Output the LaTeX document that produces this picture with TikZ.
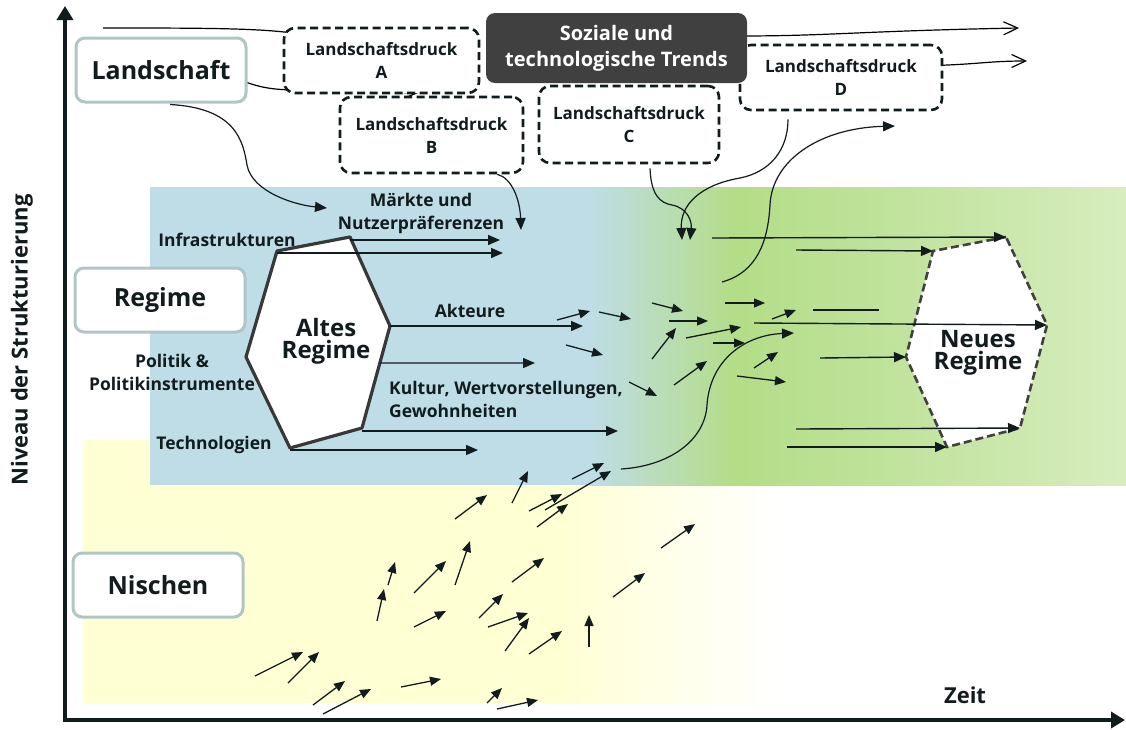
\documentclass[tikz,border=0pt]{standalone}
\usepackage{fontspec}
\setmainfont{Open Sans}
\usepackage{xcolor}
\usepackage{tikz}
\usetikzlibrary{positioning, arrows.meta, calc}
\definecolor{bandblue}{HTML}{BEDDE6}
\definecolor{bandgreen}{HTML}{B4DD87}
\definecolor{bandmid}{HTML}{BFE29A}
\definecolor{bandpale}{HTML}{D7EDBE}
\definecolor{nicheyellow}{HTML}{FFFFD4}
\definecolor{levelgray}{HTML}{B2C5C5}
\definecolor{trendgray}{HTML}{404040}
\definecolor{inkdark}{HTML}{121B1D}
\pgfdeclarelayer{bg}
\pgfdeclarelayer{links}
\pgfsetlayers{bg,links,main}

\begin{document}
\begin{tikzpicture}[x=1pt, y=-1pt, inkdark,
    levelbox/.style={draw=levelgray, line width=3pt, fill=white, rounded corners=9pt,
      minimum width=170pt, minimum height=64pt, font=\fontsize{25}{28}\selectfont\bfseries},
    pressbox/.style={draw=inkdark, line width=2.6pt, dash pattern=on 8pt off 4.5pt, fill=white,
      rounded corners=11pt, align=center, font=\fontsize{17}{23}\selectfont\bfseries},
    regimelabel/.style={font=\fontsize{17.5}{23}\selectfont\bfseries, inner sep=0pt},
    hextext/.style={align=center, font=\fontsize{24}{22}\selectfont\bfseries},
    axistext/.style={font=\fontsize{22}{24}\selectfont\bfseries},
    flow/.style={line width=1.4pt, -{Triangle[length=12pt,width=10pt]}},
    drift/.style={line width=1.3pt, -{Triangle[length=11pt,width=9pt]}},
    pull/.style={line width=1.2pt, -{Triangle[length=12pt,width=10pt]}},
    trendline/.style={line width=1.2pt, -{Straight Barb[length=14pt,width=13pt]}},
    axis/.style={line width=4pt, -{Triangle[length=14pt,width=16pt]}}]
  \useasboundingbox (0,0) rectangle (1126,729);

  \begin{pgfonlayer}{bg}
    \fill[nicheyellow] (83,440) rectangle (560,703);
    \shade[left color=nicheyellow, right color=white] (559.5,440) rectangle (780,703);
    \fill[bandblue] (150,187) rectangle (590,485);
    \shade[left color=bandblue, right color=bandgreen] (589.5,187) rectangle (735,485);
    \shade[left color=bandgreen, right color=bandmid] (734.5,187) rectangle (880,485);
    \shade[left color=bandmid, right color=bandpale] (879.5,187) rectangle (1126,485);
  \end{pgfonlayer}

  \coordinate (origin) at (65,720);
  \coordinate (ytop) at (65,6);
  \coordinate (xend) at (1125,720);
  \draw[axis] (origin) -- (ytop);
  \draw[axis] ([xshift=-2pt]origin) -- (xend);
  \node[axistext, rotate=90] (yaxis) at (22,340) {Niveau der Strukturierung};
  \node[axistext] (zeit) at (965,695) {Zeit};

  \node[levelbox] (land) at (161,70) {Landschaft};
  \node[levelbox] (regime) at (160,300) {Regime};
  \node[levelbox] (niche) at (158,585) {Nischen};

  \node[pressbox, minimum width=195pt, minimum height=65pt] (drA) at (381.5,60.5) {Landschaftsdruck\\A};
  \node[pressbox, minimum width=183pt, minimum height=76pt] (drB) at (431.5,135) {Landschaftsdruck\\B};
  \node[pressbox, minimum width=180pt, minimum height=77pt] (drC) at (629,124.5) {Landschaftsdruck\\C};
  \node[pressbox, minimum width=202pt, minimum height=65pt] (drD) at (841,77.5) {Landschaftsdruck\\D};
  \node[fill=trendgray, rounded corners=9pt, minimum width=261pt, minimum height=70pt, text=white,
        align=center, font=\fontsize{20}{26}\selectfont\bfseries] (trends) at (616.5,48) {Soziale und\\technologische Trends};

  \coordinate (topstart) at (103,28);
  \coordinate (trendend) at (1019,28);
  \coordinate (dend) at (1027,61);
  \coordinate (bland) at (418,93);
  \coordinate (mkt) at (327,208);
  \coordinate (bmk) at (521,230);
  \coordinate (cmk) at (690,240);
  \coordinate (dmk) at (682,240);
  \coordinate (upstart) at (722,282);
  \coordinate (upend) at (895,126);
  \coordinate (sstart) at (621,469);
  \coordinate (send) at (794,333);

  \begin{pgfonlayer}{links}
    \draw[line width=1.2pt] (topstart) .. controls (200,28) and (262,28) .. ($(drA.north west)+(14,7)$);
    \draw[trendline] ($(trends.east)+(-8,-12)$) .. controls (830,36) and (860,31) .. (trendend);
    \draw[trendline] ($(drD.east)+(-8,-12)$) .. controls (980,64) and (990,61) .. (dend);
    \draw[trendline] ($(land.east)+(-2,12)$) .. controls (262,88) and (275,90) .. (300,90) -- (bland);
  \end{pgfonlayer}

  \draw[pull] ($(land.south)+(9,1)$) .. controls (235,108) and (243,140) .. (247,165)
    .. controls (252,192) and (295,205) .. (mkt);
  \draw[pull] ($(drB.south east)+(-27,0)$) .. controls (512,178) and (520,200) .. (bmk);
  \draw[pull] ($(drC.south)+(21,4)$) .. controls (651,195) and (660,203) .. (672,205)
    .. controls (688,208) and (692,222) .. (cmk);
  \draw[pull] ($(drD.south)+(-53,8)$) .. controls (788,150) and (770,172) .. (740,178)
    .. controls (700,185) and (680,205) .. (dmk);
  \draw[pull] (upstart) .. controls (758,272) and (768,240) .. (770,205)
    .. controls (772,160) and (820,128) .. (upend);
  \draw[pull] (sstart) .. controls (670,466) and (705,440) .. (707,405)
    .. controls (710,360) and (745,335) .. (send);

  \coordinate (a1) at (277,251);
  \coordinate (a2) at (350,237);
  \coordinate (a3) at (390,326);
  \coordinate (a4) at (362,428);
  \coordinate (a5) at (290,448);
  \coordinate (a6) at (246,357);
  \draw[line width=3.2pt, draw=black!78, fill=white, line join=round] (a1) -- (a2) -- (a3) -- (a4) -- (a5) -- (a6) -- cycle;
  \node[hextext] (altes) at (326,341) {Altes\\Regime};

  \coordinate (n1) at (1006,237);
  \coordinate (n2) at (933,251);
  \coordinate (n3) at (906,357);
  \coordinate (n4) at (947,447);
  \coordinate (n5) at (1020,428);
  \coordinate (n6) at (1047,325);
  \draw[line width=2.6pt, draw=black!75, dash pattern=on 8pt off 4pt, fill=white] (n1) -- (n2) -- (n3) -- (n4) -- (n5) -- (n6) -- cycle;
  \node[hextext] (neues) at (978,353) {Neues\\Regime};

  \node[regimelabel] (infra) at (227,240) {Infrastrukturen};
  \node[regimelabel, align=center] (markt) at (421,213) {Märkte und\\Nutzerpräferenzen};
  \node[regimelabel] (akteure) at (470,311) {Akteure};
  \node[regimelabel, align=center] (politik) at (172,372) {Politik \&\\Politikinstrumente};
  \node[regimelabel, align=left, anchor=west] (kultur) at (389,399) {Kultur, Wertvorstellungen,\\Gewohnheiten};
  \node[regimelabel] (techno) at (214,445) {Technologien};

  \coordinate (infraA) at (500,240);
  \coordinate (infraB) at (503,253);
  \coordinate (akt) at (583,326);
  \coordinate (pol) at (535,363);
  \coordinate (kul) at (618,431);
  \coordinate (tech) at (478,450);
  \draw[flow] (a2 |- infraA) -- (infraA);
  \draw[flow] (a1 |- infraB) -- (infraB);
  \draw[flow] (a3 |- akt) -- (akt);
  \draw[flow] ($(a3)!0.363!(a4)$) -- (pol);
  \draw[flow] (a4 |- kul) -- (kul);
  \draw[flow] (a5 |- tech) -- (tech);

  \coordinate (in1) at (712,238);
  \coordinate (in2) at (796,250);
  \coordinate (in3) at (820,358);
  \coordinate (in4) at (787,447);
  \coordinate (in5) at (796,429);
  \coordinate (in6) at (754,323);
  \draw[flow] (in1) -- (n1);
  \draw[flow] (in2) -- (n2);
  \draw[flow] (in3) -- (n3);
  \draw[flow] (in4) -- (n4);
  \draw[flow] (in5) -- (n5);
  \draw[flow] (in6) -- (n6);
  \draw[line width=1.4pt] (813,310) -- (879,310);

  \foreach \sx/\sy/\ex/\ey in {255/676/303/652, 288/683/319/652, 313/705/345/681, 323/714/371/689,
      401/687/441/679, 377/621/384/589, 388/585/395/562, 414/593/446/561, 455/585/470/541,
      414/627/446/611, 455/519/487/495, 512/503/528/471, 529/511/562/494, 537/527/568/504,
      545/510/611/471, 572/479/604/463, 512/582/544/558, 479/618/503/594, 488/627/528/613,
      505/651/529/618, 529/654/562/631, 589/647/589/615, 613/597/645/573, 661/548/695/524,
      487/703/502/688, 497/709/538/700,
      557/320/590/311, 599/312/631/319, 566/345/603/355, 629/382/657/396, 652/303/683/311,
      669/321/708/321, 652/359/676/328, 686/338/741/327, 713/343/745/343, 674/385/707/361,
      725/303/765/303, 772/319/796/310, 754/368/778/352, 737/376/786/382}
    \draw[drift] (\sx,\sy) -- (\ex,\ey);
\end{tikzpicture}
\end{document}
